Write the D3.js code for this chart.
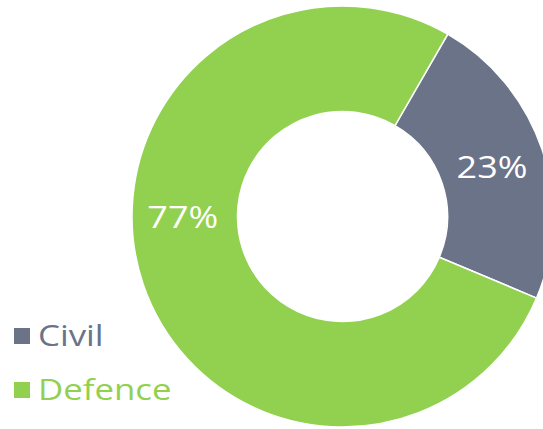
<!DOCTYPE html>
<html>
<head>
<meta charset="utf-8">
<script src="https://cdn.jsdelivr.net/npm/d3@7"></script>
<style>
  html, body { margin: 0; padding: 0; background: #fff; }
  svg { display: block; font-family: "Open Sans", sans-serif; }
</style>
</head>
<body>
<svg width="543" height="429"></svg>
<script>
// data
var categories = ["Civil", "Defence"];
var shares = [23, 77];
var colors = ["#6b7389", "#92d050"];

var svg = d3.select("svg");
var cx = 342.5, cy = 216.5;
var outerR = 210.5, innerR = 105;
var widen = 1.16; // reference font is wider than Open Sans

var data = categories.map(function(c, i) { return {name: c, value: shares[i], color: colors[i]}; });

// pie starts ~30deg clockwise from 12 o'clock
var pie = d3.pie()
  .value(function(d) { return d.value; })
  .sort(null)
  .startAngle(Math.PI / 6)
  .endAngle(Math.PI / 6 + 2 * Math.PI);

var arc = d3.arc().innerRadius(innerR).outerRadius(outerR);
var labelArc = d3.arc().innerRadius(innerR).outerRadius(outerR);

var g = svg.append("g").attr("transform", "translate(" + cx + "," + cy + ")");

var arcs = pie(data);

g.selectAll("path")
  .data(arcs)
  .enter()
  .append("path")
  .attr("d", arc)
  .attr("fill", function(d) { return d.data.color; })
  .attr("stroke", "#fff")
  .attr("stroke-width", 1.5);

// big slice label sits at 9 o'clock instead of its centroid
g.selectAll(".pct")
  .data(arcs)
  .enter()
  .append("text")
  .attr("class", "pct")
  .attr("transform", function(d) {
    var p;
    if (d.data.value > 50) {
      var a = 1.5 * Math.PI, r = (innerR + outerR + 4) / 2;
      p = [r * Math.sin(a), -r * Math.cos(a)];
    } else {
      p = labelArc.centroid(d);
    }
    return "translate(" + p[0] + "," + (p[1] + 1) + ") scale(" + widen + ",1)";
  })
  .attr("text-anchor", "middle")
  .attr("dy", "0.35em")
  .attr("fill", "#fff")
  .attr("font-size", 31)
  .text(function(d) { return d.data.value + "%"; });

// legend
var legend = svg.append("g").attr("transform", "translate(14,328)");
var item = legend.selectAll("g")
  .data(data)
  .enter()
  .append("g")
  .attr("transform", function(d, i) { return "translate(0," + (i * 54) + ")"; });

item.append("rect")
  .attr("width", 16)
  .attr("height", 16)
  .attr("fill", function(d) { return d.color; });

item.append("text")
  .attr("transform", "translate(24,18) scale(" + widen + ",1)")
  .attr("font-size", 30)
  .attr("fill", function(d) { return d.color; })
  .text(function(d) { return d.name; });
</script>
</body>
</html>
